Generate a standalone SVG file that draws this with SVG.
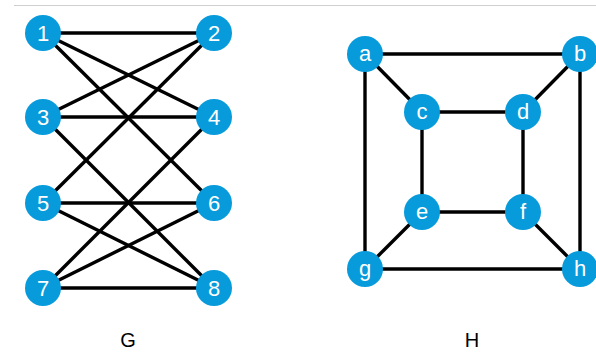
<svg xmlns="http://www.w3.org/2000/svg" width="596" height="356" viewBox="0 0 596 356">
<style>
.n circle{fill:#079bdb}
.n text{fill:#fff;font-family:"Liberation Sans",Arial,sans-serif;font-size:22px;text-anchor:middle;dominant-baseline:central}
#edges line{stroke:#000;stroke-width:3.4}
.cap{font-family:"Liberation Sans",Arial,sans-serif;font-size:20px;fill:#000;text-anchor:middle}
</style>
<rect width="596" height="356" fill="#fff"/>
<line x1="14" y1="5.5" x2="596" y2="5.5" stroke="#cfcfcf" stroke-width="1.2"/>
<g id="edges">
<line x1="43" y1="33" x2="214" y2="33"/>
<line x1="43" y1="33" x2="214" y2="117"/>
<line x1="43" y1="33" x2="214" y2="203"/>
<line x1="214" y1="33" x2="43" y2="117"/>
<line x1="214" y1="33" x2="43" y2="203"/>
<line x1="43" y1="117" x2="214" y2="117"/>
<line x1="43" y1="117" x2="214" y2="288"/>
<line x1="214" y1="117" x2="43" y2="288"/>
<line x1="43" y1="203" x2="214" y2="203"/>
<line x1="43" y1="203" x2="214" y2="288"/>
<line x1="214" y1="203" x2="43" y2="288"/>
<line x1="43" y1="288" x2="214" y2="288"/>
<line x1="365" y1="54" x2="580" y2="54"/>
<line x1="365" y1="54" x2="422" y2="112"/>
<line x1="365" y1="54" x2="365" y2="269"/>
<line x1="580" y1="54" x2="523" y2="112"/>
<line x1="580" y1="54" x2="580" y2="269"/>
<line x1="422" y1="112" x2="523" y2="112"/>
<line x1="422" y1="112" x2="422" y2="212"/>
<line x1="523" y1="112" x2="523" y2="212"/>
<line x1="422" y1="212" x2="523" y2="212"/>
<line x1="422" y1="212" x2="365" y2="269"/>
<line x1="523" y1="212" x2="580" y2="269"/>
<line x1="365" y1="269" x2="580" y2="269"/>
</g>
<g id="n1" class="n"><circle cx="43" cy="33" r="18"/><text x="43" y="33">1</text></g>
<g id="n2" class="n"><circle cx="214" cy="33" r="18"/><text x="214" y="33">2</text></g>
<g id="n3" class="n"><circle cx="43" cy="117" r="18"/><text x="43" y="117">3</text></g>
<g id="n4" class="n"><circle cx="214" cy="117" r="18"/><text x="214" y="117">4</text></g>
<g id="n5" class="n"><circle cx="43" cy="203" r="18"/><text x="43" y="203">5</text></g>
<g id="n6" class="n"><circle cx="214" cy="203" r="18"/><text x="214" y="203">6</text></g>
<g id="n7" class="n"><circle cx="43" cy="288" r="18"/><text x="43" y="288">7</text></g>
<g id="n8" class="n"><circle cx="214" cy="288" r="18"/><text x="214" y="288">8</text></g>
<g id="na" class="n"><circle cx="365" cy="54" r="18"/><text x="365" y="53">a</text></g>
<g id="nb" class="n"><circle cx="580" cy="54" r="18"/><text x="580" y="53">b</text></g>
<g id="nc" class="n"><circle cx="422" cy="112" r="18"/><text x="422" y="111">c</text></g>
<g id="nd" class="n"><circle cx="523" cy="112" r="18"/><text x="523" y="111">d</text></g>
<g id="ne" class="n"><circle cx="422" cy="212" r="18"/><text x="422" y="211">e</text></g>
<g id="nf" class="n"><circle cx="523" cy="212" r="18"/><text x="523" y="211">f</text></g>
<g id="ng" class="n"><circle cx="365" cy="269" r="18"/><text x="365" y="268">g</text></g>
<g id="nh" class="n"><circle cx="580" cy="269" r="18"/><text x="580" y="268">h</text></g>
<text class="cap" x="128" y="347">G</text>
<text class="cap" x="472" y="347">H</text>
</svg>
